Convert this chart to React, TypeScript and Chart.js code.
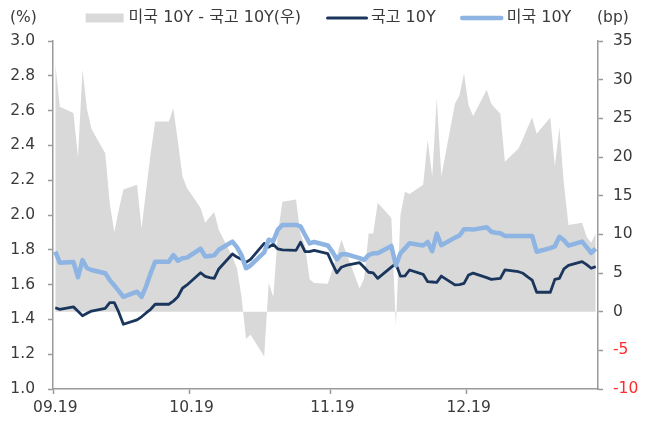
import React, { useEffect, useRef } from 'react';
import { Chart, registerables } from 'chart.js';

Chart.register(...registerables);

const FONT = "'DejaVu Sans', 'Noto Sans CJK KR', sans-serif";

// Trading days (x categories)
const dates = [
  '2019-09-19', '2019-09-20', '2019-09-23', '2019-09-24', '2019-09-25', '2019-09-26', '2019-09-27', '2019-09-30',
  '2019-10-01', '2019-10-02', '2019-10-03', '2019-10-04', '2019-10-07', '2019-10-08', '2019-10-09', '2019-10-10',
  '2019-10-11', '2019-10-14', '2019-10-15', '2019-10-16', '2019-10-17', '2019-10-18', '2019-10-21', '2019-10-22',
  '2019-10-23', '2019-10-24', '2019-10-25', '2019-10-28', '2019-10-29', '2019-10-30', '2019-10-31', '2019-11-01',
  '2019-11-04', '2019-11-05', '2019-11-06', '2019-11-07', '2019-11-08', '2019-11-11', '2019-11-12', '2019-11-13',
  '2019-11-14', '2019-11-15', '2019-11-18', '2019-11-19', '2019-11-20', '2019-11-21', '2019-11-22', '2019-11-25',
  '2019-11-26', '2019-11-27', '2019-11-28', '2019-11-29', '2019-12-02', '2019-12-03', '2019-12-04', '2019-12-05',
  '2019-12-06', '2019-12-09', '2019-12-10', '2019-12-11', '2019-12-12', '2019-12-13', '2019-12-16', '2019-12-17',
  '2019-12-18', '2019-12-19', '2019-12-20', '2019-12-23', '2019-12-24', '2019-12-25', '2019-12-26', '2019-12-27',
  '2019-12-30', '2019-12-31', '2020-01-01', '2020-01-02', '2020-01-03', '2020-01-06', '2020-01-07', '2020-01-08',
  '2020-01-09', '2020-01-10', '2020-01-13', '2020-01-14', '2020-01-15', '2020-01-16',
];

// 국고 10Y (%)
const kr10y = [
  1.467, 1.458, 1.472, 1.447, 1.421, 1.435, 1.448, 1.464,
  1.496, 1.496, 1.440, 1.372, 1.397, 1.415, 1.437, 1.458,
  1.487, 1.487, 1.505, 1.530, 1.579, 1.598, 1.668, 1.647,
  1.640, 1.636, 1.690, 1.776, 1.758, 1.745, 1.728, 1.745,
  1.837, 1.815, 1.832, 1.805, 1.799, 1.797, 1.843, 1.789,
  1.790, 1.797, 1.778, 1.720, 1.668, 1.700, 1.710, 1.726,
  1.700, 1.671, 1.668, 1.636, 1.700, 1.720, 1.649, 1.650,
  1.684, 1.659, 1.617, 1.615, 1.613, 1.649, 1.598, 1.600,
  1.607, 1.655, 1.666, 1.640, 1.630, 1.633, 1.636, 1.684,
  1.674, 1.665, 1.645, 1.626, 1.556, 1.556, 1.630, 1.636,
  1.690, 1.710, 1.732, 1.715, 1.694, 1.703,
];

// 미국 10Y (%)
const us10y = [
  1.789, 1.726, 1.730, 1.642, 1.741, 1.694, 1.684, 1.665,
  1.626, 1.595, 1.562, 1.530, 1.559, 1.530, 1.590, 1.665,
  1.732, 1.732, 1.770, 1.737, 1.751, 1.755, 1.806, 1.762,
  1.765, 1.768, 1.800, 1.847, 1.815, 1.770, 1.694, 1.710,
  1.785, 1.858, 1.850, 1.915, 1.943, 1.943, 1.935, 1.885,
  1.837, 1.845, 1.825, 1.790, 1.745, 1.774, 1.775, 1.752,
  1.742, 1.770, 1.780, 1.780, 1.822, 1.710, 1.780, 1.808,
  1.838, 1.825, 1.845, 1.792, 1.893, 1.826, 1.870, 1.882,
  1.918, 1.918, 1.916, 1.930, 1.904, 1.898, 1.895, 1.880,
  1.880, 1.880, 1.880, 1.880, 1.789, 1.810, 1.820, 1.875,
  1.855, 1.824, 1.847, 1.815, 1.783, 1.806,
];

// 미국 10Y - 국고 10Y (bp, right axis)
const spreadBp = [
  32.1, 26.5, 25.7, 20.0, 31.3, 26.1, 23.6, 20.5,
  14.0, 10.3, 13.2, 15.8, 16.4, 10.8, 15.7, 20.5,
  24.6, 24.6, 26.3, 22.0, 17.5, 16.0, 13.4, 11.5,
  12.2, 12.9, 10.6, 7.1, 5.6, 2.0, -3.5, -3.0,
  -5.8, 3.7, 1.9, 10.0, 14.2, 14.5, 10.0, 8.5,
  4.2, 3.7, 3.6, 5.4, 7.2, 9.3, 7.7, 3.0,
  4.3, 10.1, 10.1, 14.1, 12.1, -1.9, 12.5, 15.5,
  15.2, 16.4, 22.2, 17.5, 27.6, 17.5, 26.9, 28.0,
  30.8, 26.7, 25.3, 28.7, 26.9, 26.2, 25.6, 19.4,
  21.1, 22.4, 23.8, 25.1, 23.0, 25.1, 18.8, 23.8,
  16.5, 11.2, 11.5, 9.7, 8.9, 10.1,
];

const xTickDates = ['2019-09-19', '2019-10-19', '2019-11-19', '2019-12-19'];
const xTickLabels = ['09.19', '10.19', '11.19', '12.19'];
const legendLabels = ['미국 10Y - 국고 10Y(우)', '국고 10Y', '미국 10Y'];
const unitLeft = '(%)';
const unitRight = '(bp)';

const COLORS = {
  area: '#D9D9D9',
  kr: '#1B365D',
  us: '#8DB4E2',
  text: '#3a3a3a',
  axis: '#9a9a9a',
  neg: '#FF2A2A',
};

const DAY = 86400000;
const BASE = Date.UTC(2019, 8, 19);
const dayOf = (s: string) => {
  const [y, m, d] = s.split('-').map(Number);
  return Math.round((Date.UTC(y, m - 1, d) - BASE) / DAY);
};

const FONT_SIZE = 15.5;
const LEGEND_FONT_SIZE = 16;

const overlayPlugin = {
  id: 'overlayText',
  afterDraw(chart: any) {
    const { ctx, chartArea } = chart;
    ctx.save();
    ctx.textBaseline = 'middle';
    ctx.fillStyle = COLORS.text;
    const y = 18;
    // units
    ctx.font = `${FONT_SIZE}px ${FONT}`;
    ctx.textAlign = 'left';
    ctx.fillText(unitLeft, 10, y);
    ctx.fillText(unitRight, chartArea.right - 1, y);

    // legend
    ctx.font = `${LEGEND_FONT_SIZE}px ${FONT}`;
    const sw = [38, 42, 42];
    const gap = [5, 3, 4];
    const spacing = 25;
    const widths = legendLabels.map((t) => ctx.measureText(t).width);
    const total =
      widths.reduce((a, b) => a + b, 0) +
      sw.reduce((a, b) => a + b, 0) +
      gap.reduce((a, b) => a + b, 0) +
      spacing * (legendLabels.length - 1);
    let x = (chart.width - total) / 2;
    legendLabels.forEach((t, i) => {
      if (i === 0) {
        ctx.fillStyle = COLORS.area;
        ctx.fillRect(x, y - 4.5, sw[i], 9);
      } else {
        ctx.strokeStyle = i === 1 ? COLORS.kr : COLORS.us;
        ctx.lineWidth = i === 1 ? 3 : 4.5;
        ctx.lineCap = 'round';
        ctx.beginPath();
        ctx.moveTo(x + 1.5, y);
        ctx.lineTo(x + sw[i] - 1.5, y);
        ctx.stroke();
      }
      x += sw[i] + gap[i];
      ctx.fillStyle = COLORS.text;
      ctx.fillText(t, x, y);
      x += widths[i] + spacing;
    });
    ctx.restore();
  },
};

export default function App() {
  const ref = useRef<HTMLCanvasElement | null>(null);

  useEffect(() => {
    if (!ref.current) return;
    const xs = dates.map(dayOf);
    const toPts = (arr: number[]) => arr.map((v, i) => ({ x: xs[i], y: v }));
    const xMax = xs[xs.length - 1] + 0.5;

    const chart = new Chart(ref.current, {
      type: 'line',
      data: {
        datasets: [
          {
            label: legendLabels[2],
            data: toPts(us10y),
            yAxisID: 'y',
            borderColor: COLORS.us,
            borderWidth: 4.5,
            pointRadius: 0,
            fill: false,
            tension: 0,
            borderJoinStyle: 'round',
            order: 0,
          },
          {
            label: legendLabels[1],
            data: toPts(kr10y),
            yAxisID: 'y',
            borderColor: COLORS.kr,
            borderWidth: 2.8,
            pointRadius: 0,
            fill: false,
            tension: 0,
            borderJoinStyle: 'round',
            order: 1,
          },
          {
            label: legendLabels[0],
            data: toPts(spreadBp),
            yAxisID: 'y1',
            borderColor: 'rgba(0,0,0,0)',
            borderWidth: 0,
            backgroundColor: COLORS.area,
            pointRadius: 0,
            fill: 'origin',
            tension: 0,
            order: 2,
          },
        ],
      },
      options: {
        animation: false,
        responsive: false,
        events: [],
        layout: { padding: { top: 41, left: 0, right: 0, bottom: 0 } },
        plugins: {
          legend: { display: false },
          tooltip: { enabled: false },
        },
        scales: {
          x: {
            type: 'linear',
            min: -0.5,
            max: xMax,
            afterBuildTicks: (scale: any) => {
              scale.ticks = xTickDates.map((d) => ({ value: dayOf(d) - 0.5 }));
            },
            afterFit: (scale: any) => {
              scale.height = 32;
            },
            ticks: {
              autoSkip: false,
              maxRotation: 0,
              padding: 5,
              labelOffset: 2.3,
              color: COLORS.text,
              font: { family: FONT, size: FONT_SIZE },
              callback: (_v: any, i: number) => xTickLabels[i],
            },
            grid: {
              drawOnChartArea: false,
              drawTicks: true,
              tickLength: 5,
              tickColor: COLORS.axis,
              tickWidth: 1.5,
            },
            border: { display: true, color: COLORS.axis, width: 1.5 },
          },
          y: {
            type: 'linear',
            position: 'left',
            min: 1.0,
            max: 3.0,
            afterFit: (scale: any) => {
              scale.width = 53;
            },
            ticks: {
              stepSize: 0.2,
              padding: 13,
              color: COLORS.text,
              font: { family: FONT, size: FONT_SIZE },
              callback: (v: any) => Number(v).toFixed(1),
            },
            grid: {
              drawOnChartArea: false,
              drawTicks: true,
              tickLength: 5,
              tickColor: COLORS.axis,
              tickWidth: 1.5,
            },
            border: { display: true, color: COLORS.axis, width: 1.5 },
          },
          y1: {
            type: 'linear',
            position: 'right',
            min: -10,
            max: 35,
            afterFit: (scale: any) => {
              scale.width = 59;
            },
            ticks: {
              stepSize: 5,
              padding: 10,
              color: (c: any) => (c.tick && c.tick.value < 0 ? COLORS.neg : COLORS.text),
              font: { family: FONT, size: FONT_SIZE },
              callback: (v: any) => String(v),
            },
            grid: {
              drawOnChartArea: false,
              drawTicks: true,
              tickLength: 5,
              tickColor: COLORS.axis,
              tickWidth: 1.5,
            },
            border: { display: true, color: COLORS.axis, width: 1.5 },
          },
        },
      },
      plugins: [overlayPlugin],
    });
    return () => chart.destroy();
  }, []);

  return (
    <div style={{ position: 'absolute', left: 0, top: 0, width: 657, height: 421, background: '#fff' }}>
      <canvas ref={ref} width={657} height={421} style={{ width: 657, height: 421, display: 'block' }} />
    </div>
  );
}
